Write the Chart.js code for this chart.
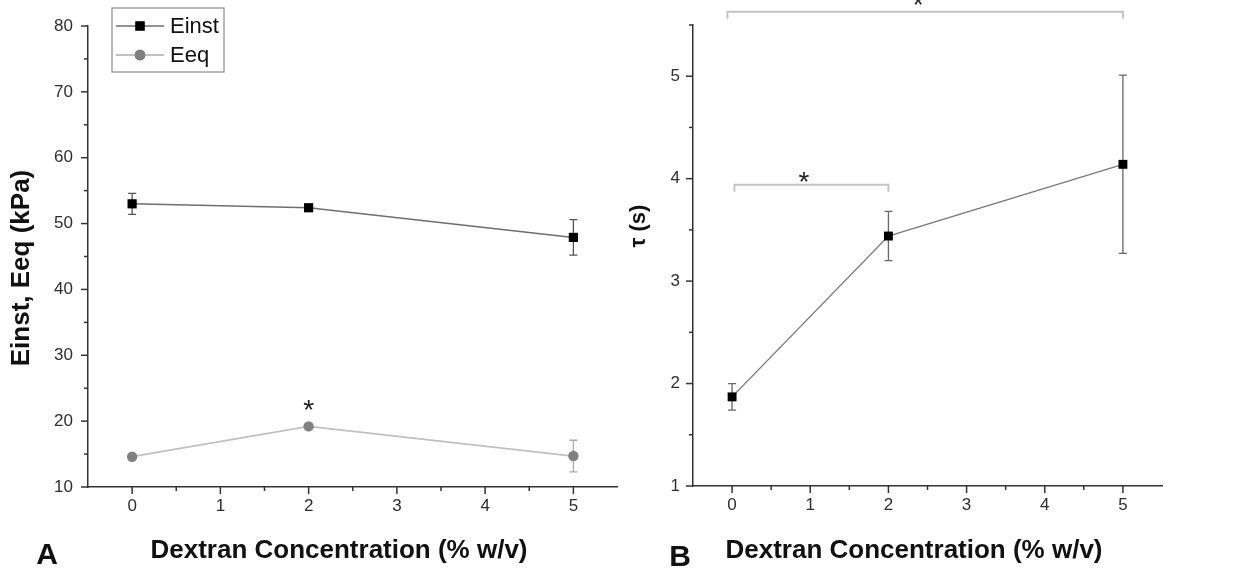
<!DOCTYPE html>
<html>
<head>
<meta charset="utf-8">
<script src="https://cdn.jsdelivr.net/npm/chart.js@4.4.0/dist/chart.umd.min.js"></script>
<style>
    html, body { margin: 0; padding: 0; background: #fff; }
    #wrap { position: relative; width: 1242px; height: 577px; overflow: hidden; }
    canvas { position: absolute; top: 0; }
    #chartA { left: 0; }
    #chartB { left: 624px; }
</style>
</head>
<body>
<div id="wrap">
    <canvas id="chartA" width="624" height="577"></canvas>
    <canvas id="chartB" width="618" height="577"></canvas>
</div>
<script>
// Veriler
const concentrations = [0, 2, 5];
const einst = [53.0, 52.4, 47.9];
const einstErr = [1.6, 0.5, 2.7];
const eeq = [14.6, 19.2, 14.7];
const eeqErr = [0.3, 0.3, 2.4];
const tau = [1.87, 3.44, 4.14];
const tauErr = [0.13, 0.24, 0.87];

// Eksen etiketleri
const xTicks = [0, 1, 2, 3, 4, 5];
const yTicksA = [10, 20, 30, 40, 50, 60, 70, 80];
const yTicksB = [1, 2, 3, 4, 5];

const FONT = "'Liberation Sans', Arial, sans-serif";

function toPoints(values) {
    return concentrations.map((c, i) => ({ x: c, y: values[i] }));
}

// ara çentikler: ardışık ana çentiklerin ortası
function midpoints(ticks) {
    const out = [];
    for (let i = 0; i < ticks.length - 1; i++) out.push((ticks[i] + ticks[i + 1]) / 2);
    return out;
}

// Hata çubukları, çentikler, başlıklar, lejant ve işaretler
const figurePlugin = {
    id: 'figure',
    beforeDatasetsDraw(chart, args, opts) {
        const ctx = chart.ctx;
        const xs = chart.scales.x, ys = chart.scales.y;
        ctx.save();
        opts.errors.forEach(e => {
            const ds = chart.data.datasets[e.dataset];
            ctx.strokeStyle = e.color;
            ctx.lineWidth = 1.3;
            ds.data.forEach((pt, i) => {
                const x = xs.getPixelForValue(pt.x);
                const y1 = ys.getPixelForValue(pt.y + e.err[i]);
                const y2 = ys.getPixelForValue(pt.y - e.err[i]);
                ctx.beginPath();
                ctx.moveTo(x, y1); ctx.lineTo(x, y2);
                ctx.moveTo(x - 4, y1); ctx.lineTo(x + 4, y1);
                ctx.moveTo(x - 4, y2); ctx.lineTo(x + 4, y2);
                ctx.stroke();
            });
        });
        ctx.restore();
    },
    afterDraw(chart, args, opts) {
        const ctx = chart.ctx;
        const xs = chart.scales.x, ys = chart.scales.y;
        ctx.save();

        // çentikler
        ctx.strokeStyle = '#333';
        ctx.lineWidth = 1.5;
        const left = chart.chartArea.left, bottom = chart.chartArea.bottom;
        const yMajor = ys.ticks.map(t => t.value);
        const xMajor = xs.ticks.map(t => t.value);
        yMajor.forEach(v => { const y = ys.getPixelForValue(v); ctx.beginPath(); ctx.moveTo(left - 7, y); ctx.lineTo(left, y); ctx.stroke(); });
        midpoints(yMajor).concat([yMajor[yMajor.length - 1] + (yMajor[1] - yMajor[0]) / 2])
            .filter(v => v <= ys.max).forEach(v => { const y = ys.getPixelForValue(v); ctx.beginPath(); ctx.moveTo(left - 4, y); ctx.lineTo(left, y); ctx.stroke(); });
        xMajor.forEach(v => { const x = xs.getPixelForValue(v); ctx.beginPath(); ctx.moveTo(x, bottom); ctx.lineTo(x, bottom + 7); ctx.stroke(); });
        midpoints(xMajor).forEach(v => { const x = xs.getPixelForValue(v); ctx.beginPath(); ctx.moveTo(x, bottom); ctx.lineTo(x, bottom + 4); ctx.stroke(); });

        // eksen başlıkları
        ctx.fillStyle = '#111';
        ctx.textAlign = 'center';
        ctx.textBaseline = 'middle';
        ctx.font = 'bold 26px ' + FONT;
        ctx.fillText(opts.xTitle.text, opts.xTitle.x, opts.xTitle.y);
        ctx.save();
        ctx.font = 'bold ' + opts.yTitle.size + 'px ' + FONT;
        ctx.translate(opts.yTitle.x, opts.yTitle.y);
        ctx.rotate(-Math.PI / 2);
        ctx.fillText(opts.yTitle.text, 0, 0);
        ctx.restore();

        // panel harfi
        ctx.font = 'bold 30px ' + FONT;
        ctx.fillText(opts.letter.text, opts.letter.x, opts.letter.y);

        // parantezler
        ctx.strokeStyle = '#c4c4c4';
        ctx.lineWidth = 2;
        (opts.brackets || []).forEach(b => {
            const x1 = xs.getPixelForValue(b.from), x2 = xs.getPixelForValue(b.to);
            const y = ys.getPixelForValue(b.y);
            ctx.beginPath();
            ctx.moveTo(x1, y + 7); ctx.lineTo(x1, y); ctx.lineTo(x2, y); ctx.lineTo(x2, y + 7);
            ctx.stroke();
        });

        // yıldızlar
        ctx.fillStyle = '#222';
        ctx.font = '28px ' + FONT;
        ctx.textBaseline = 'alphabetic';
        (opts.stars || []).forEach(s => {
            ctx.fillText('*', xs.getPixelForValue(s.x), ys.getPixelForValue(s.y) + 0.58 * 28);
        });

        // lejant
        if (opts.legend) {
            const L = opts.legend;
            ctx.strokeStyle = '#8a8a8a';
            ctx.lineWidth = 1.2;
            ctx.strokeRect(L.x, L.y, L.w, L.h);
            chart.data.datasets.forEach((ds, i) => {
                const ry = L.y + 18 + i * 29;
                ctx.strokeStyle = ds.borderColor;
                ctx.lineWidth = ds.borderWidth;
                ctx.beginPath(); ctx.moveTo(L.x + 4, ry); ctx.lineTo(L.x + 52, ry); ctx.stroke();
                Chart.helpers.drawPoint(ctx, {
                    pointStyle: ds.pointStyle, radius: ds.pointRadius, borderWidth: 0, rotation: 0
                }, L.x + 28, ry);
                ctx.fillStyle = ds.pointBackgroundColor;
                ctx.fill();
                ctx.fillStyle = '#111';
                ctx.font = '22px ' + FONT;
                ctx.textAlign = 'left';
                ctx.textBaseline = 'middle';
                ctx.fillText(ds.label, L.x + 58, ry + 1);
            });
        }
        ctx.restore();
    }
};

function axisOptions(min, max, ticksArr, padding, fit) {
    return {
        type: 'linear',
        min: min,
        max: max,
        afterBuildTicks: s => { s.ticks = ticksArr.map(v => ({ value: v })); },
        afterFit: fit,
        grid: { display: false, drawTicks: false },
        border: { display: true, color: '#333', width: 1.5 },
        ticks: {
            padding: padding,
            color: '#2e2e2e',
            font: { family: FONT, size: 17 },
            callback: v => String(v)
        }
    };
}

// Panel A
new Chart(document.getElementById('chartA'), {
    type: 'line',
    data: {
        datasets: [{
            label: 'Einst',
            data: toPoints(einst),
            borderColor: '#6e6e6e',
            borderWidth: 1.5,
            pointStyle: 'rect',
            pointRadius: 6.5,
            pointBackgroundColor: '#000',
            pointBorderWidth: 0,
            clip: false
        }, {
            label: 'Eeq',
            data: toPoints(eeq),
            borderColor: '#c0c0c0',
            borderWidth: 1.8,
            pointStyle: 'circle',
            pointRadius: 5.2,
            pointBackgroundColor: '#808080',
            pointBorderWidth: 0,
            clip: false
        }]
    },
    options: {
        responsive: false,
        animation: false,
        layout: { padding: { top: 26, right: 4, left: 0, bottom: 0 } },
        scales: {
            x: axisOptions(-0.5, 5.5, xTicks, 9, s => { s.height = 90; }),
            y: axisOptions(10, 80, yTicksA, 15, s => { s.width = 88; })
        },
        plugins: {
            legend: { display: false },
            tooltip: { enabled: false },
            figure: {
                errors: [
                    { dataset: 0, err: einstErr, color: '#555' },
                    { dataset: 1, err: eeqErr, color: '#aaa' }
                ],
                xTitle: { text: 'Dextran Concentration (% w/v)', x: 339, y: 551 },
                yTitle: { text: 'Einst, Eeq (kPa)', x: 22, y: 268, size: 26 },
                letter: { text: 'A', x: 47, y: 556 },
                stars: [{ x: 2, y: 22.8 }],
                legend: { x: 112, y: 8, w: 112, h: 64 }
            }
        }
    },
    plugins: [figurePlugin]
});

// Panel B
new Chart(document.getElementById('chartB'), {
    type: 'line',
    data: {
        datasets: [{
            label: 'τ',
            data: toPoints(tau),
            borderColor: '#7a7a7a',
            borderWidth: 1.4,
            pointStyle: 'rect',
            pointRadius: 6.3,
            pointBackgroundColor: '#000',
            pointBorderWidth: 0,
            clip: false
        }]
    },
    options: {
        responsive: false,
        animation: false,
        layout: { padding: { top: 25, right: 80, left: 0, bottom: 0 } },
        scales: {
            x: axisOptions(-0.5, 5.5, xTicks, 9, s => { s.height = 91; }),
            y: axisOptions(1, 5.5, yTicksB, 13, s => { s.width = 69; })
        },
        plugins: {
            legend: { display: false },
            tooltip: { enabled: false },
            figure: {
                errors: [{ dataset: 0, err: tauErr, color: '#666' }],
                xTitle: { text: 'Dextran Concentration (% w/v)', x: 290, y: 551 },
                yTitle: { text: 'τ (s)', x: 15, y: 226, size: 22 },
                letter: { text: 'B', x: 56, y: 558 },
                brackets: [
                    { from: 0.03, to: 2, y: 3.94 },
                    { from: -0.06, to: 5, y: 5.63 }
                ],
                stars: [{ x: 0.92, y: 4.04 }, { x: 2.38, y: 5.765 }]
            }
        }
    },
    plugins: [figurePlugin]
});
</script>
</body>
</html>
